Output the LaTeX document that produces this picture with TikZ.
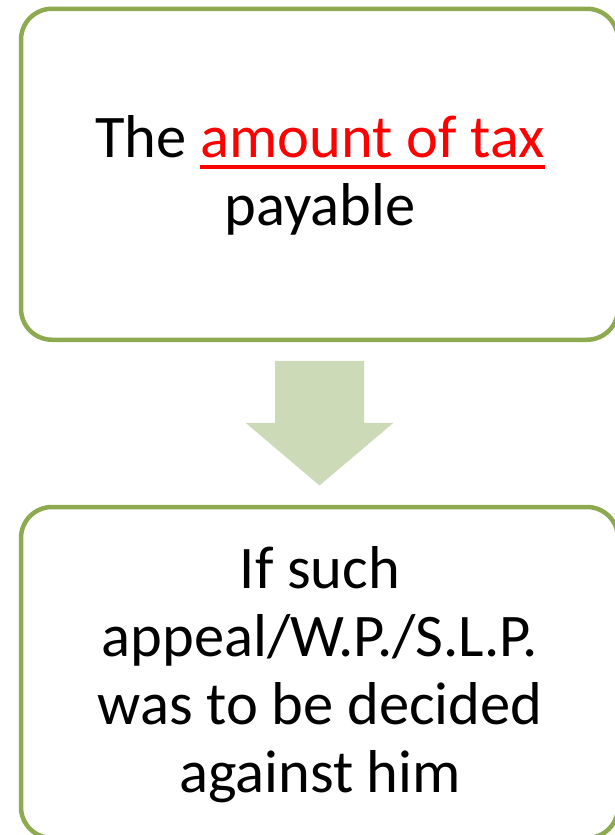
\documentclass[tikz,border=0pt]{standalone}
\usepackage{fontspec}
\setmainfont{Carlito}
\usepackage{tikz}
\usetikzlibrary{positioning, calc}
\definecolor{boxgreen}{RGB}{142,170,80}
\definecolor{arrowgreen}{RGB}{204,218,183}
\newcommand{\redunderline}[1]{\textcolor{red}{\setbox0\hbox{#1}\rlap{\vrule height -7.7pt depth 11.7pt width \wd0}\box0}}

\begin{document}
\begin{tikzpicture}[x=1pt, y=-1pt,
    roundbox/.style={rectangle, draw=boxgreen, line width=4.5pt, rounded corners=31pt, minimum width=597pt, minimum height=331pt, inner sep=0pt, outer sep=0pt},
    boxtext/.style={align=center, anchor=base, font=\fontsize{60.5}{67.7}\selectfont}
]
\useasboundingbox (0,0) rectangle (614,835);
\node[roundbox](box_1) at (319.5,174.25){};
\node[roundbox](box_2) at (319.5,672.5){};
\node[boxtext](text_1) at (320,225){The \redunderline{amount of tax}\\payable};
\node[boxtext](text_2) at (320,792){If such\\appeal/W.P./S.L.P.\\was to be decided\\against him};

\coordinate[below = 21pt of box_1.south](arrow_top);
\fill[arrowgreen] (arrow_top) ++(-44.5,0) -- ++(0,62) -- ++(-29.5,0) -- ++(74,62.7) -- ++(74,-62.7) -- ++(-29.5,0) -- ++(0,-62) -- cycle;
\end{tikzpicture}
\end{document}
